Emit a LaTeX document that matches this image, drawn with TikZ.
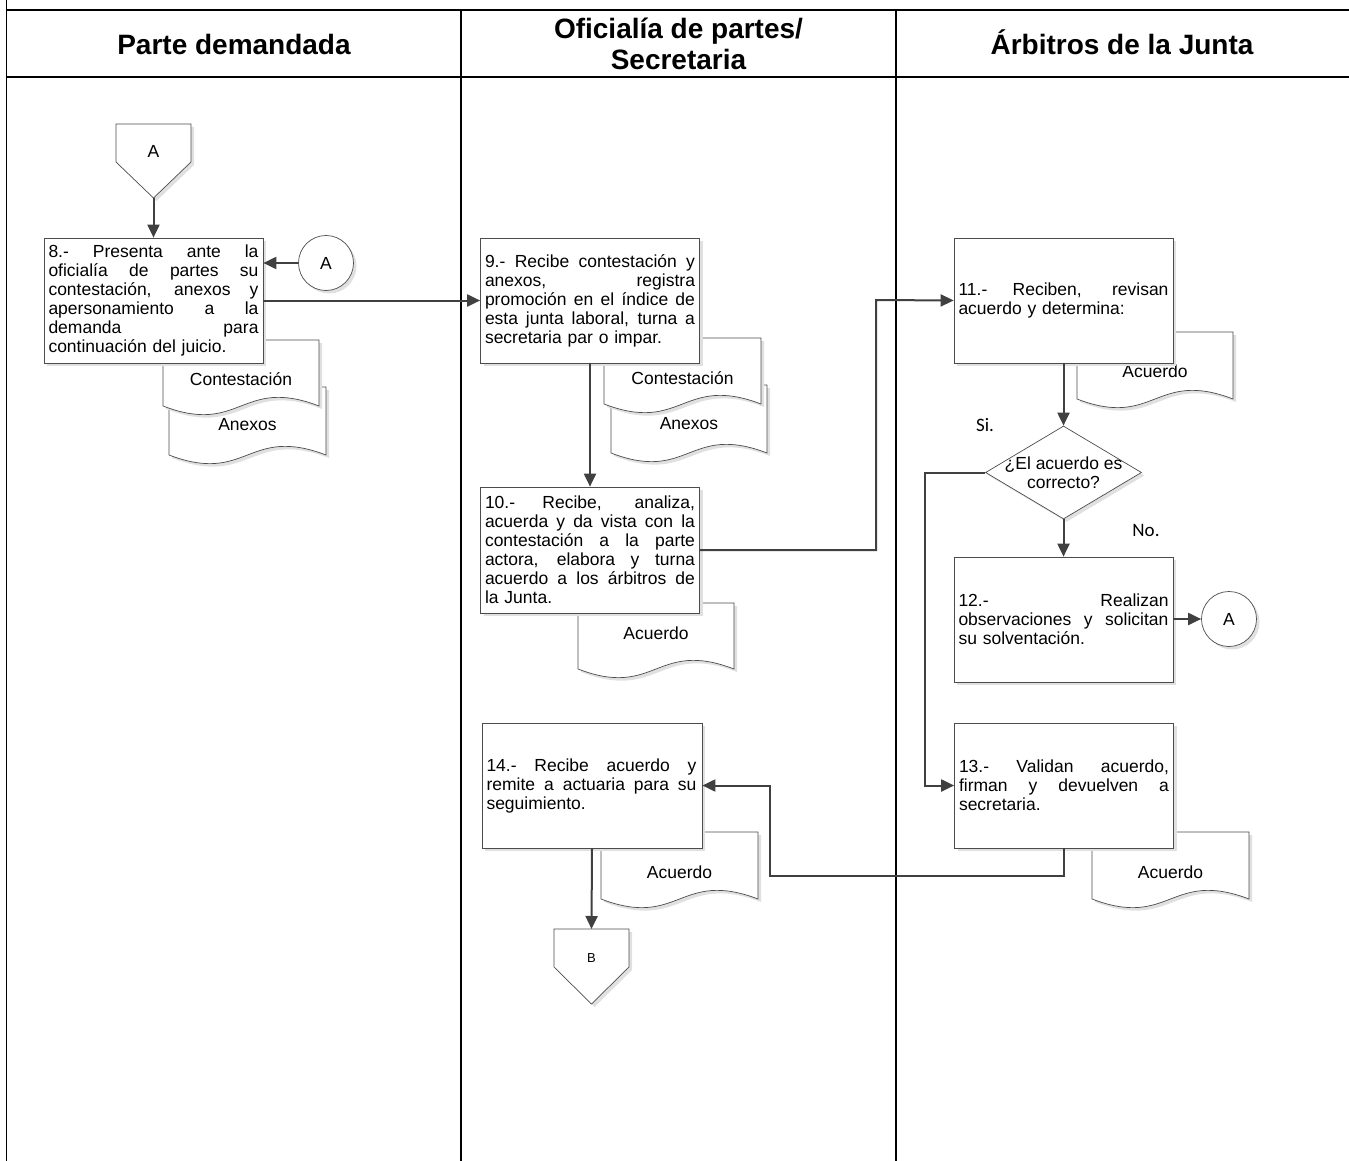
\documentclass[tikz,border=0pt]{standalone}
\usepackage{fontspec}
\setmainfont{Liberation Sans}
\newfontfamily\calib{Carlito}
\usetikzlibrary{arrows.meta,shapes.geometric,shadows,calc}

\newlength\boxtw
\setlength\boxtw{210pt}
\newcommand\jl[1]{\leavevmode\hbox to \boxtw{\spaceskip=0.28em plus 1fil\relax #1}}

% document shape: x0, top, width, bottom-left y, name, text, text y
\newcommand\docsh[7]{%
  \fill[shade] ({#1+3},{#2+3}) -- ({#1+#3+3},{#2+3}) -- ({#1+#3+3},{#4+3})
     .. controls ({#1+0.5*#3+3},{#4+3-30}) and ({#1+0.5*#3+3},{#4+3+30}) .. ({#1+3},{#4+3}) -- cycle;
  \draw[shapeline] (#1,#2) -- ({#1+#3},#2) -- ({#1+#3},#4)
     .. controls ({#1+0.5*#3},{#4-30}) and ({#1+0.5*#3},{#4+30}) .. (#1,#4) -- cycle;
  \node[doctext] (#5) at ({#1+0.5*#3},#7) {#6};
}

% off-page connector: cx, top, side end y, tip y, half width, name, text, text y
\newcommand\offpg[8]{%
  \fill[shade] ({#1-#5+3},{#2+3}) -- ({#1+#5+3},{#2+3}) -- ({#1+#5+3},{#3+3}) -- ({#1+3},{#4+3}) -- ({#1-#5+3},{#3+3}) -- cycle;
  \draw[shapeline] ({#1-#5},#2) -- ({#1+#5},#2) -- ({#1+#5},#3) -- (#1,#4) -- ({#1-#5},#3) -- cycle;
  \coordinate (#6tip) at (#1,#4);
  \coordinate (#6top) at (#1,#2);
  \node[inner sep=0pt] (#6) at (#1,#8) {#7};
}

\begin{document}
\begin{tikzpicture}[x=1pt,y=-1pt,
  shade/.style={fill=black!12},
  shapeline/.style={draw=black!70, line width=0.7pt, fill=white},
  doctext/.style={font=\fontsize{17.5}{19}\selectfont, inner sep=0pt},
  sh/.style={drop shadow={shadow xshift=3pt, shadow yshift=-3pt, fill=black!12, opacity=1}},
  box/.style={draw=black!70, line width=0.7pt, fill=white, rectangle, sh,
     inner xsep=4.5pt, inner ysep=0pt, text width=210pt, minimum height=125pt,
     align=left, font=\fontsize{17.5}{19}\selectfont},
  circ/.style={draw=black!70, line width=0.7pt, fill=white, circle, sh,
     minimum size=55pt, inner sep=0pt, font=\fontsize{17.5}{19}\selectfont},
  arr/.style={draw=black!75, line width=2pt, -{Triangle[length=13pt,width=12pt]}},
  lane/.style={draw=black, line width=1.6pt},
  hline/.style={draw=black, line width=2.2pt},
  head/.style={font=\bfseries\fontsize{28}{31}\selectfont, align=center},
  lbl/.style={font=\calib\fontsize{19}{21}\selectfont, inner sep=0pt}
]
\useasboundingbox (0,0) rectangle (1349,1161);

% lanes
\draw[lane] (6.5,0) -- (6.5,1161);
\draw[lane] (461,10) -- (461,1161);
\draw[lane] (896,10) -- (896,1161);
\draw[hline] (5.5,10) -- (1349,10);
\draw[hline] (5.5,77) -- (1349,77);

\node[head] (h1) at (234,44) {Parte demandada};
\node[head] (h2) at (678.5,44) {Oficialía de partes/\\Secretaria};
\node[head] (h3) at (1122,42) {Árbitros de la Junta};

% documents
\docsh{169}{387}{157}{455}{d8b}{Anexos}{425}
\docsh{163}{340}{156}{406}{d8a}{Contestación}{379}
\docsh{611}{385}{156}{453}{d9b}{Anexos}{424}
\docsh{604}{338}{157}{404}{d9a}{Contestación}{378}
\docsh{578}{603}{156}{669}{d10}{Acuerdo}{633}
\docsh{1077}{332}{156}{399}{d11}{Acuerdo}{371}
\docsh{601}{832}{157}{899}{d14}{Acuerdo}{872}
\docsh{1092}{832}{157}{899}{d13}{Acuerdo}{872}

% off-page connectors
\offpg{153.5}{124}{162}{198}{37.5}{opA}{\fontsize{17.5}{19}\selectfont A}{151}
\offpg{591.5}{929}{967}{1004}{37.5}{opB}{\fontsize{13}{15}\selectfont B}{958}

% process boxes
\node[box] (b8) at (153.5,300.5) {\jl{8.- Presenta ante la}\\\jl{oficialía de partes su}\\\jl{contestación, anexos y}\\\jl{apersonamiento a la}\\\jl{demanda para}\\continuación del juicio.};
\node[box] (b9) at (590,300.5) {\jl{9.- Recibe contestación y}\\\jl{anexos, registra}\\\jl{promoción en el índice de}\\\jl{esta junta laboral, turna a}\\secretaria par o impar.};
\node[box, minimum height=126pt] (b10) at (590,550) {\jl{10.- Recibe, analiza,}\\\jl{acuerda y da vista con la}\\\jl{contestación a la parte}\\\jl{actora, elabora y turna}\\\jl{acuerdo a los árbitros de}\\la Junta.};
\node[box] (b11) at (1063.5,300.5) {\jl{11.- Reciben, revisan}\\acuerdo y determina:};
\node[box] (b12) at (1063.5,619.5) {\jl{12.- Realizan}\\\jl{observaciones y solicitan}\\su solventación.};
\node[box] (b13) at (1064,785.5) {\jl{13.- Validan acuerdo,}\\\jl{firman y devuelven a}\\secretaria.};
\node[box, text width=211pt] (b14) at (592,785.5) {\jl{14.- Recibe acuerdo y}\\\jl{remite a actuaria para su}\\seguimiento.};

% decision
\node[draw=black!70, line width=0.7pt, fill=white, diamond, aspect=1.68, sh,
      minimum width=156pt, minimum height=93pt, inner sep=0pt] (dq) at (1063.5,472.5) {};
\node[font=\fontsize{17.5}{19}\selectfont, align=center, inner sep=0pt] (dqt) at (1063.5,473) {¿El acuerdo es\\correcto?};

% connectors (circles)
\node[circ] (cA1) at (326,263) {A};
\node[circ] (cA2) at (1229,619) {A};

\node[lbl] (si) at (985,425) {Si.};
\node[lbl] (no) at (1146,530) {No.};

\coordinate (j1) at (876,300);
\coordinate (j2) at (925,472.5);
\coordinate (j3) at (770,876);

% arrows
\draw[arr] (opAtip) -- (b8.north);
\draw[arr] (cA1.west) -- (b8.east |- cA1.west);
\draw[arr] (b8.east) -- (b9.west);
\draw[arr] (b9.south) -- (b10.north);
\draw[arr] (b10.east) -| (j1) -- (b11.west);
\draw[arr] (b11.south -| dq.north) -- (dq.north);
\draw[arr] (dq.south) -- (b12.north -| dq.south);
\draw[arr] (b12.east |- cA2.west) -- (cA2.west);
\draw[arr] (dq.west) -- (j2) |- (b13.west);
\draw[arr] (b13.south) |- (j3) |- (b14.east);
\draw[arr] (b14.south) -- (opBtop);
\end{tikzpicture}
\end{document}
